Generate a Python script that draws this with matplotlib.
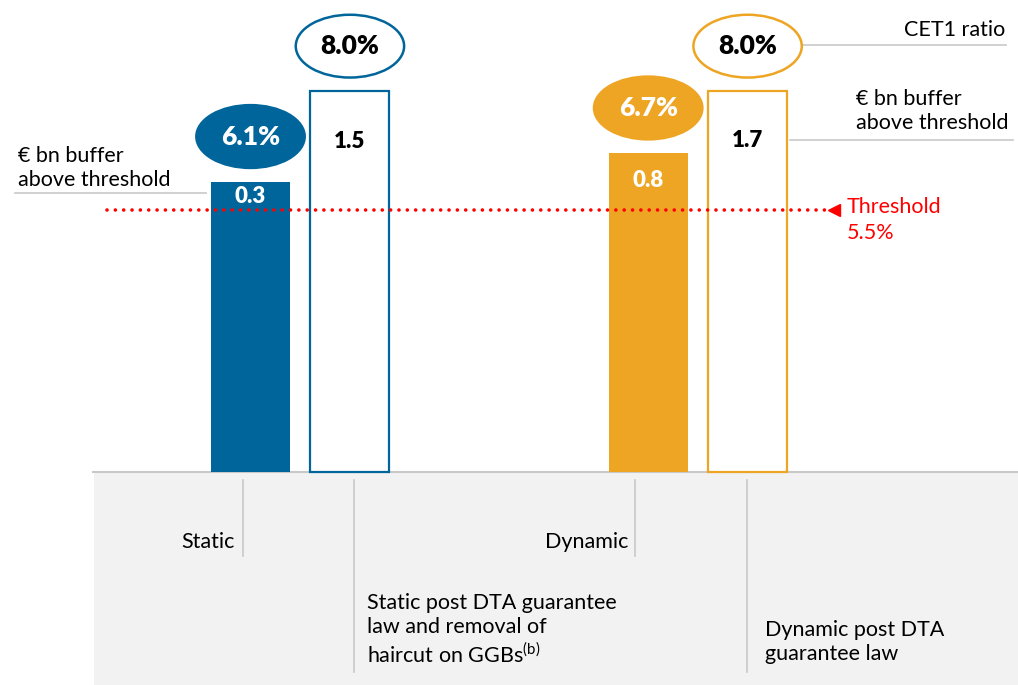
import matplotlib
matplotlib.use("Agg")
import matplotlib.pyplot as plt
from matplotlib import transforms
from matplotlib.patches import Ellipse

plt.rcParams["font.family"] = ["Lato", "DejaVu Sans"]
plt.rcParams["mathtext.fontset"] = "custom"
plt.rcParams["mathtext.rm"] = "Lato"

# data
SCENARIOS = ["Static", "Static post DTA guarantee law and removal of haircut on GGBs",
             "Dynamic", "Dynamic post DTA guarantee law"]
CET1 = [6.1, 8.0, 6.7, 8.0]            # CET1 ratio, %
BUFFER = [0.3, 1.5, 0.8, 1.7]          # EUR bn buffer above threshold
THRESHOLD = 5.5

BLUE = "#00659a"
ORANGE = "#eda523"
RED = "#ff0000"
GREY = "#c8c8c8"
PANEL = "#f2f2f2"
FS = 15.5

W, H = 1018, 685
fig = plt.figure(figsize=(W / 100, H / 100), dpi=100)
ax = fig.add_axes([0, 0, 1, 1])
ax.axis("off")

xpos = [0, 1, 4, 5]
ax.set_xlim(-2.52, 7.72)
ax.set_ylim(-4.48, 9.92)

# pixel helper (origin top-left)
pix = transforms.Affine2D().scale(1 / W, -1 / H).translate(0, 1) + fig.transFigure

# bottom panel + baseline
ax.axhspan(-4.48, 0, xmin=94 / W, xmax=1, color=PANEL, zorder=0, lw=0)
ax.axhline(0, xmin=93 / W, xmax=1, color=GREY, lw=1.5, zorder=1)

colors = [BLUE, BLUE, ORANGE, ORANGE]
filled = [True, False, True, False]
for x, v, c, f in zip(xpos, CET1, colors, filled):
    ax.bar(x, v, width=0.795, color=c if f else "white", edgecolor=c,
           linewidth=0 if f else 1.6, zorder=2)

# CET1 ratio ellipses
for x, v, c, f in zip(xpos, CET1, colors, filled):
    e = Ellipse((x, v + 0.95), width=1.09, height=1.32,
                facecolor=c if f else "white", edgecolor=c, lw=1.8, zorder=4)
    ax.add_patch(e)
    ax.text(x, v + 0.95, f"{v:.1f}%", ha="center", va="center",
            fontsize=19, fontweight="heavy",
            color="white" if f else "black", zorder=5)

# buffer labels inside bars
drop_px = [15, 50, 27, 49]
for x, v, b, f, d in zip(xpos, CET1, BUFFER, filled, drop_px):
    ax.annotate(f"{b:.1f}", (x, v), xytext=(0, -d * 0.72), textcoords="offset points",
                ha="center", va="center", fontsize=16, fontweight="heavy",
                color="white" if f else "black", zorder=5)

# threshold
ytr = ax.get_yaxis_transform()
ax.plot([107 / W, 826 / W], [THRESHOLD, THRESHOLD], transform=ytr, color=RED,
        lw=2.6, linestyle=(0, (0.01, 2.3)), dash_capstyle="round", zorder=3)
ax.plot(834 / W, THRESHOLD, marker="<", ms=9, color=RED, transform=ytr, zorder=3)
ax.text(847, 220, f"Threshold\n{THRESHOLD}%", transform=pix, ha="left", va="center",
        fontsize=FS, color=RED, linespacing=1.35)

# side annotations
ax.text(18, 168, "€ bn buffer\nabove threshold", transform=pix, ha="left",
        va="center", fontsize=FS, linespacing=1.3)
ax.plot([15, 206], [193, 193], transform=pix, color=GREY, lw=1.2)

ax.text(1005, 30, "CET1 ratio", transform=pix, ha="right", va="center", fontsize=FS)
ax.plot([800, 1006], [45, 45], transform=pix, color=GREY, lw=1.2)

ax.text(856, 111, "€ bn buffer\nabove threshold", transform=pix, ha="left",
        va="center", fontsize=FS, linespacing=1.3)
ax.plot([790, 1013], [140, 140], transform=pix, color=GREY, lw=1.2)

# category labels in the panel
for lx, y1 in [(243, 556), (354, 672), (635, 556), (747, 672)]:
    ax.plot([lx, lx], [480, y1], transform=pix, color=GREY, lw=1.2)

ax.text(235, 542, "Static", transform=pix, ha="right", va="center", fontsize=FS)
ax.text(628, 542, "Dynamic", transform=pix, ha="right", va="center", fontsize=FS)
ax.text(367, 630, "Static post DTA guarantee\nlaw and removal of\nhaircut on GGBs$^{\\mathrm{(b)}}$",
        transform=pix, ha="left", va="center", fontsize=FS, linespacing=1.25)
ax.text(765, 642, "Dynamic post DTA\nguarantee law", transform=pix, ha="left",
        va="center", fontsize=FS, linespacing=1.3)

fig.savefig("out.png", dpi=100)
